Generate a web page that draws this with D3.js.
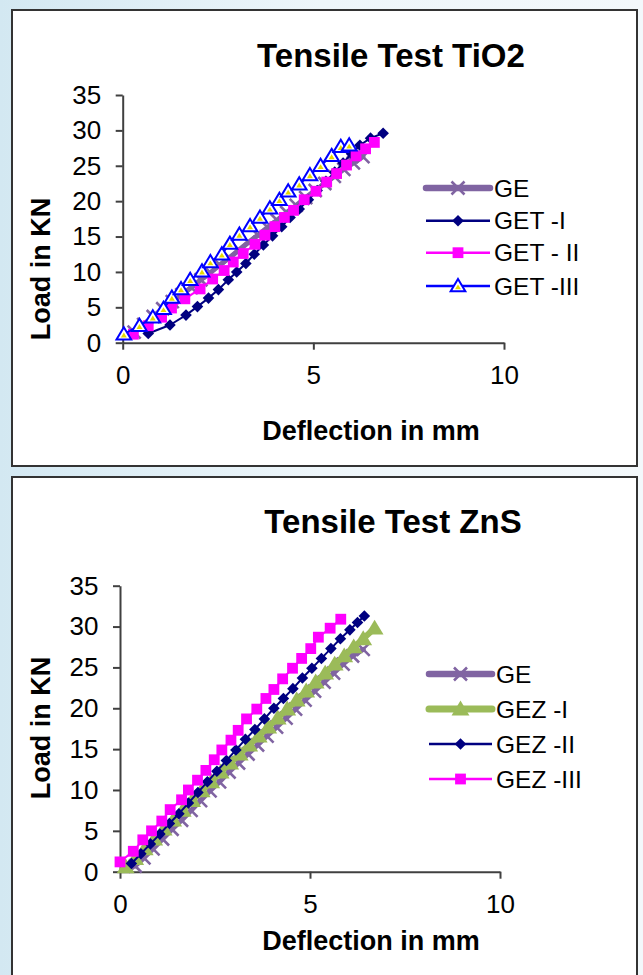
<!DOCTYPE html>
<html><head><meta charset="utf-8">
<script src="https://cdn.jsdelivr.net/npm/d3@7"></script>
<style>
html,body{margin:0;padding:0;}
body{width:643px;height:975px;overflow:hidden;background:#fff;}
text{font-family:"Liberation Sans",Arial,Helvetica,sans-serif;fill:#000;}
</style></head><body><svg id="c" width="643" height="975"></svg>
<script>
// ---------- data ----------
const xTicks = [0, 5, 10];
const yTicks = [0, 5, 10, 15, 20, 25, 30, 35];
const tio2Title = "Tensile Test TiO2";
const znsTitle = "Tensile Test ZnS";
const xTitle = "Deflection in mm";
const yTitle = "Load in KN";
const tio2Names = ["GE", "GET -I", "GET - II", "GET -III"];
const znsNames = ["GE", "GEZ -I", "GEZ -II", "GEZ -III"];

const geTiO2 = [[0.3,1.5],[0.55,2.6],[0.8,3.7],[1.05,4.8],[1.3,5.8],[1.55,6.8],[1.8,7.8],[2.05,8.9],[2.3,9.9],[2.55,11.0],[2.8,12.0],[3.05,13.1],[3.3,14.2],[3.55,15.2],[3.8,16.3],[4.05,17.3],[4.3,18.4],[4.55,19.4],[4.8,20.5],[5.05,21.5],[5.3,22.5],[5.55,23.5],[5.8,24.5],[6.05,25.4],[6.3,26.3]];
const get1 = [[0.67,1.3],[1.24,2.5],[1.66,3.9],[1.96,5.1],[2.25,6.3],[2.51,7.5],[2.77,8.9],[2.99,10.0],[3.23,11.2],[3.45,12.5],[3.69,13.8],[3.93,15.1],[4.17,16.4],[4.39,17.7],[4.63,18.9],[4.87,20.2],[5.1,21.5],[5.33,22.8],[5.56,24.1],[5.78,25.4],[6.0,26.7],[6.22,27.9],[6.5,28.9],[6.83,29.6]];
const get2 = [[0.28,1.2],[0.67,2.4],[1.02,3.6],[1.28,4.9],[1.63,6.2],[2.03,7.6],[2.36,9.0],[2.66,10.2],[2.9,11.4],[3.16,12.6],[3.47,13.9],[3.73,15.2],[3.99,16.4],[4.24,17.7],[4.48,18.7],[4.76,20.2],[5.07,21.4],[5.35,22.7],[5.61,23.9],[5.87,25.1],[6.12,26.4],[6.37,27.4],[6.6,28.3]];
const get3 = [[0.03,1.2],[0.44,2.4],[0.79,3.6],[1.07,4.8],[1.29,6.4],[1.53,7.6],[1.77,8.9],[2.08,10.1],[2.3,11.4],[2.6,12.5],[2.81,14.0],[3.06,15.3],[3.34,16.5],[3.6,17.7],[3.86,19.0],[4.11,20.2],[4.34,21.4],[4.63,22.4],[4.91,23.7],[5.19,25.0],[5.48,26.4],[5.72,27.7],[5.94,27.9]];

const geZnS = [[0.4,0.7],[0.63,1.7],[0.87,2.8],[1.12,4.0],[1.37,5.2],[1.62,6.3],[1.87,7.5],[2.12,8.7],[2.37,9.9],[2.62,11.0],[2.87,12.2],[3.12,13.3],[3.37,14.4],[3.62,15.5],[3.87,16.6],[4.12,17.7],[4.37,18.8],[4.62,19.9],[4.87,21.0],[5.12,22.1],[5.37,23.2],[5.62,24.3],[5.87,25.4],[6.12,26.4],[6.4,27.2]];
const gez1 = [[0.15,0.6],[0.4,1.6],[0.65,2.8],[0.9,4.0],[1.15,5.2],[1.4,6.3],[1.65,7.5],[1.9,8.7],[2.15,9.9],[2.4,11.0],[2.65,12.2],[2.9,13.3],[3.15,14.4],[3.4,15.5],[3.65,16.6],[3.9,17.7],[4.15,18.8],[4.4,19.9],[4.65,21.0],[4.9,22.1],[5.15,23.2],[5.4,24.3],[5.65,25.4],[5.9,26.4],[6.15,27.5],[6.4,28.5],[6.7,29.8]];
const gez2 = [[0.3,1.0],[0.55,2.2],[0.8,3.4],[1.05,4.6],[1.3,5.9],[1.55,7.1],[1.8,8.4],[2.05,9.7],[2.3,11.0],[2.55,12.3],[2.8,13.6],[3.05,14.9],[3.3,16.2],[3.55,17.4],[3.8,18.7],[4.05,20.0],[4.3,21.2],[4.55,22.4],[4.8,23.7],[5.05,24.9],[5.3,26.1],[5.55,27.3],[5.8,28.5],[6.05,29.6],[6.25,30.5],[6.43,31.3]];
const gez3 = [[0.0,1.2],[0.35,2.5],[0.6,3.9],[0.83,5.0],[1.1,6.2],[1.32,7.6],[1.62,8.8],[1.8,10.0],[2.04,11.2],[2.26,12.4],[2.48,13.7],[2.68,14.9],[2.92,16.1],[3.11,17.3],[3.33,18.7],[3.6,19.9],[3.84,21.2],[4.05,22.3],[4.28,23.6],[4.54,24.9],[4.78,26.1],[5.02,27.3],[5.22,28.7],[5.53,29.8],[5.81,30.9]];

// ---------- styles ----------
const styles = {
  ge:   {color:"#8064A2", width:5, legWidth:6.5, cap:"round", marker:"x"},
  navy: {color:"#000080", width:2, legWidth:2.5, cap:"butt", marker:"diamond"},
  pink: {color:"#FF00FF", width:2, legWidth:2.5, cap:"butt", marker:"square"},
  blueT:{color:"#0000FF", width:2, legWidth:2.5, cap:"butt", marker:"triOpen"},
  green:{color:"#9BBB59", width:6, legWidth:7, cap:"round", marker:"triFill"}
};

const svg = d3.select("#c");
const defs = svg.append("defs");
const grad = defs.append("linearGradient").attr("id","bg").attr("x1","0").attr("x2","1").attr("y1","0").attr("y2","0");
grad.append("stop").attr("offset","0").attr("stop-color","#d3e8f2");
grad.append("stop").attr("offset","0.5").attr("stop-color","#eef6fa");
grad.append("stop").attr("offset","1").attr("stop-color","#f3f8fb");
svg.append("rect").attr("width",643).attr("height",975).attr("fill","url(#bg)");

function markerPath(type, s) {
  if (type === "diamond") return `M0,${-s}L${s},0L0,${s}L${-s},0Z`;
  if (type === "square") return `M${-s},${-s}H${s}V${s}H${-s}Z`;
  if (type === "x") return `M${-s},${-s}L${s},${s}M${-s},${s}L${s},${-s}`;
  if (type === "tri") return `M0,${-s}L${s*1.05},${s*0.75}L${-s*1.05},${s*0.75}Z`;
  return "";
}

function drawMarker(g, type, color) {
  if (type === "x") {
    g.append("path").attr("d", markerPath("x", 6.5)).attr("stroke", color).attr("stroke-width", 2.6).attr("fill","none");
  } else if (type === "diamond") {
    g.append("path").attr("d", markerPath("diamond", 5.8)).attr("fill", color);
  } else if (type === "square") {
    g.append("path").attr("d", markerPath("square", 5.4)).attr("fill", color);
  } else if (type === "triOpen") {
    g.append("path").attr("d", markerPath("tri", 7)).attr("fill", "#fff").attr("stroke", color).attr("stroke-width", 2);
    g.append("path").attr("d", markerPath("tri", 2.8)).attr("transform","translate(0,1.2)").attr("fill", "#E6D800");
  } else if (type === "triFill") {
    g.append("path").attr("d", markerPath("tri", 8.5)).attr("fill", color);
  }
}

function drawPanel(cfg) {
  const g = svg.append("g");
  g.append("rect").attr("x", cfg.box[0]).attr("y", cfg.box[1]).attr("width", cfg.box[2]).attr("height", cfg.box[3])
    .attr("fill", "#fff").attr("stroke", "#333").attr("stroke-width", 2);
  const xs = d3.scaleLinear().domain([0, 10]).range([cfg.left, cfg.right]);
  const ys = d3.scaleLinear().domain([0, 35]).range([cfg.bottom, cfg.top]);

  const xAxis = g.append("g").attr("transform", `translate(0,${cfg.bottom})`)
    .call(d3.axisBottom(xs).tickValues(xTicks).tickSize(7).tickSizeOuter(0).tickPadding(15.5).tickFormat(d3.format("d")));
  const yAxis = g.append("g").attr("transform", `translate(${cfg.left},0)`)
    .call(d3.axisLeft(ys).tickValues(yTicks).tickSize(7).tickSizeOuter(0).tickPadding(14.5).tickFormat(d3.format("d")));
  [xAxis, yAxis].forEach(a => {
    a.select(".domain").attr("stroke", "#404040").attr("stroke-width", 2);
    a.selectAll(".tick line").attr("stroke", "#404040").attr("stroke-width", 2);
    a.selectAll(".tick text").attr("font-size", 26).attr("fill", "#000").attr("font-family", '"Liberation Sans",Arial,sans-serif');
  });

  const line = d3.line().x(d => xs(d[0])).y(d => ys(d[1]));
  cfg.series.forEach(s => {
    const st = styles[s.style];
    g.append("path").datum(s.data).attr("d", line).attr("fill", "none")
      .attr("stroke", st.color).attr("stroke-width", st.width).attr("stroke-linecap", st.cap).attr("stroke-linejoin","round");
    s.data.forEach(d => {
      const mg = g.append("g").attr("transform", `translate(${xs(d[0])},${ys(d[1])})`);
      drawMarker(mg, st.marker, st.color);
    });
  });

  g.append("text").attr("x", cfg.titleX).attr("y", cfg.titleY).attr("text-anchor", "middle")
    .attr("font-size", 33).attr("font-weight", "bold").text(cfg.title);
  g.append("text").attr("x", cfg.xTitleX).attr("y", cfg.xTitleY).attr("text-anchor", "middle")
    .attr("font-size", 27).attr("font-weight", "bold").text(xTitle);
  g.append("text").attr("transform", `translate(${cfg.yTitleX},${cfg.yTitleY}) rotate(-90)`).attr("text-anchor", "middle")
    .attr("font-size", 27).attr("font-weight", "bold").text(yTitle);

  cfg.series.forEach((s, i) => {
    const st = styles[s.style];
    const y = cfg.legY[i];
    const lg = g.append("g");
    lg.append("line").attr("x1", cfg.legX0).attr("x2", cfg.legX1).attr("y1", y).attr("y2", y)
      .attr("stroke", st.color).attr("stroke-width", st.legWidth).attr("stroke-linecap", st.cap);
    const mg = lg.append("g").attr("transform", `translate(${(cfg.legX0 + cfg.legX1) / 2},${y})`);
    drawMarker(mg, st.marker, st.color);
    lg.append("text").attr("x", cfg.legX1 + 4).attr("y", y + 8.5).attr("font-size", 24.5).text(s.name);
  });
}

drawPanel({
  box: [12, 10, 625, 456],
  left: 122.7, right: 504, top: 95, bottom: 342.7,
  title: tio2Title, titleX: 391, titleY: 67,
  xTitleX: 371, xTitleY: 440, yTitleX: 50, yTitleY: 269,
  legX0: 426, legX1: 490, legY: [188, 220.7, 252.7, 286],
  series: [
    {name: tio2Names[0], data: geTiO2, style: "ge"},
    {name: tio2Names[1], data: get1, style: "navy"},
    {name: tio2Names[2], data: get2, style: "pink"},
    {name: tio2Names[3], data: get3, style: "blueT"}
  ]
});

drawPanel({
  box: [12, 477, 625, 520],
  left: 120, right: 500, top: 585.7, bottom: 871.7,
  title: znsTitle, titleX: 393, titleY: 533,
  xTitleX: 371, xTitleY: 950, yTitleX: 50, yTitleY: 728,
  legX0: 429, legX1: 492, legY: [674, 709, 744, 779],
  series: [
    {name: znsNames[0], data: geZnS, style: "ge"},
    {name: znsNames[1], data: gez1, style: "green"},
    {name: znsNames[2], data: gez2, style: "navy"},
    {name: znsNames[3], data: gez3, style: "pink"}
  ]
});
</script></body></html>
